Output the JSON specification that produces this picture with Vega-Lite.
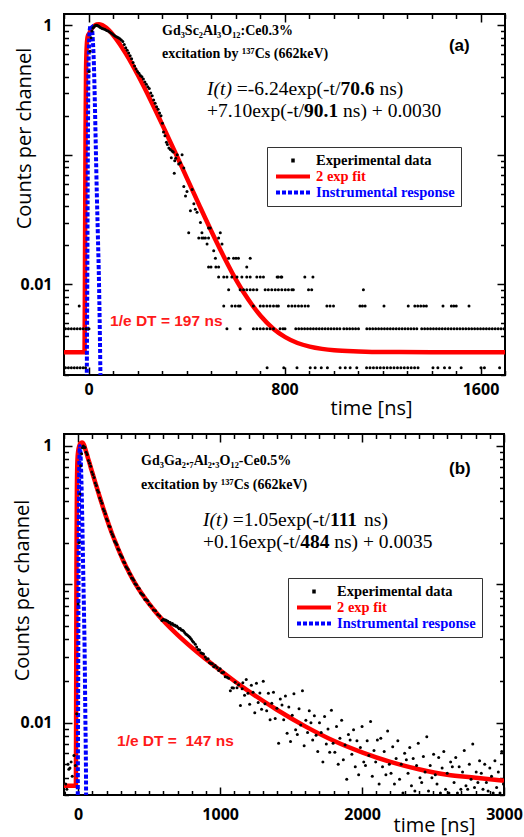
{
"$schema":"https://vega.github.io/schema/vega-lite/v6.json",
"padding":{"left":11,"top":12,"right":0,"bottom":0},
"config":{
 "view":{"stroke":"black","strokeWidth":2},
 "axis":{"domain":false,"grid":false,"tickColor":"black","tickWidth":1.5,"labelFont":"Open Sans","labelFontSize":16,"labelFontWeight":"bold","labelColor":"black","titleFont":"Open Sans","titleFontSize":20,"titleFontWeight":"normal","titleColor":"black","labelOverlap":false,"labelFlush":false,"labelBound":false},
 "legend":{"orient":"none","title":null,"direction":"vertical","columns":1,"clipHeight":15,"strokeColor":"#333333","fillColor":"white","padding":6,"rowPadding":0,"labelOffset":4,"symbolOffset":1,"labelFont":"Liberation Serif","labelFontWeight":"bold","labelFontSize":14.5,
    "labelColor":{"expr":"datum.value == '2 exp fit' ? '#ff0000' : datum.value == 'Instrumental response' ? '#0000ff' : '#000000'"},
    "symbolType":"stroke",
    "symbolSize":1156,
    "symbolStrokeWidth":4,
    "symbolDash":{"expr":"datum.value == 'Instrumental response' ? [4,2] : datum.value == 'Experimental data' ? [3.5,100] : [1,0]"},
    "symbolDashOffset":{"expr":"datum.value == 'Experimental data' ? -15.25 : 0"}}
},
"datasets":{
"aFit":[{"t":-100,"v":0.003},{"t":-16,"v":0.003},{"t":-14,"v":0.02},{"t":-12,"v":0.15},{"t":-10,"v":0.45},{"t":-7,"v":0.7},{"t":-3,"v":0.82},{"t":3,"v":0.863},{"t":13,"v":0.941},{"t":23,"v":0.988},{"t":33,"v":1.012},{"t":43,"v":1.017},{"t":53,"v":1.006},{"t":63,"v":0.983},{"t":83,"v":0.916},{"t":103,"v":0.829},{"t":128,"v":0.713},{"t":153,"v":0.6},{"t":178,"v":0.498},{"t":203,"v":0.407},{"t":253,"v":0.265},{"t":303,"v":0.168},{"t":353,"v":0.105},{"t":403,"v":0.0652},{"t":453,"v":0.0405},{"t":503,"v":0.0254},{"t":553,"v":0.0163},{"t":603,"v":0.0108},{"t":653,"v":0.0076},{"t":703,"v":0.0057},{"t":753,"v":0.00457},{"t":803,"v":0.00392},{"t":853,"v":0.00353},{"t":903,"v":0.00331},{"t":953,"v":0.00318},{"t":1003,"v":0.0031},{"t":1103,"v":0.00304},{"t":1203,"v":0.00301},{"t":1400,"v":0.003},{"t":1700,"v":0.003}],
"aIrf":[{"t":-9,"v":0.0008},{"t":-7,"v":0.002},{"t":-5,"v":0.01},{"t":-3,"v":0.08},{"t":-1,"v":0.3},{"t":2,"v":0.7},{"t":6,"v":0.95},{"t":10,"v":1.0},{"t":14,"v":0.95},{"t":18,"v":0.75},{"t":22,"v":0.5},{"t":26,"v":0.25},{"t":30,"v":0.11},{"t":34,"v":0.05},{"t":38,"v":0.025},{"t":43,"v":0.01},{"t":48,"v":0.0025},{"t":51,"v":0.0008}],
"aPts":[{"t":-94,"v":0.00455},{"t":-94,"v":0.00227},{"t":-82,"v":0.00455},{"t":-82,"v":0.00227},{"t":-70,"v":0.00455},{"t":-70,"v":0.00227},{"t":-58,"v":0.00455},{"t":-58,"v":0.00227},{"t":-46,"v":0.00455},{"t":-46,"v":0.00227},{"t":-38,"v":0.00682},{"t":-34,"v":0.00455},{"t":-34,"v":0.00227},{"t":-22,"v":0.00455},{"t":-22,"v":0.00227},{"t":-12,"v":0.00227},{"t":-10,"v":0.00455},{"t":2,"v":0.00455},
{"t":2,"v":0.44},{"t":6,"v":0.63},{"t":10,"v":0.8},{"t":14,"v":0.9},{"t":18,"v":0.95},{"t":22,"v":0.97},{"t":26,"v":0.99},{"t":30,"v":1.0},{"t":34,"v":1.0},{"t":38,"v":0.99},{"t":42,"v":0.98},{"t":46,"v":0.97},{"t":50,"v":0.955},{"t":56,"v":0.945},{"t":62,"v":0.935},{"t":68,"v":0.925},{"t":74,"v":0.91},{"t":80,"v":0.9},{"t":86,"v":0.885},{"t":92,"v":0.87},{"t":98,"v":0.855},{"t":104,"v":0.835},{"t":110,"v":0.82},{"t":116,"v":0.81},{"t":122,"v":0.8},{"t":128,"v":0.785},{"t":134,"v":0.77},{"t":140,"v":0.75},{"t":146,"v":0.71},{"t":152,"v":0.67},{"t":158,"v":0.64},{"t":164,"v":0.61},{"t":170,"v":0.58},{"t":176,"v":0.55},{"t":182,"v":0.515},{"t":188,"v":0.485},{"t":194,"v":0.46},{"t":200,"v":0.44},{"t":206,"v":0.425},{"t":212,"v":0.41},{"t":218,"v":0.4},{"t":224,"v":0.385},{"t":230,"v":0.365},{"t":236,"v":0.35},{"t":242,"v":0.335},{"t":248,"v":0.325},{"t":254,"v":0.3},{"t":260,"v":0.285},{"t":266,"v":0.265},{"t":272,"v":0.25},{"t":278,"v":0.235},{"t":284,"v":0.225},{"t":290,"v":0.21},{"t":296,"v":0.2},{"t":302,"v":0.175},{"t":306,"v":0.15},{"t":312,"v":0.14},{"t":318,"v":0.125},{"t":322,"v":0.12},{"t":328,"v":0.113},{"t":334,"v":0.11},{"t":338,"v":0.095},{"t":341,"v":0.107},{"t":346,"v":0.105},{"t":350,"v":0.072},{"t":352,"v":0.09},{"t":356,"v":0.094},{"t":362,"v":0.1},{"t":368,"v":0.085},{"t":375,"v":0.087},{"t":382,"v":0.1},{"t":389,"v":0.079},{"t":389,"v":0.057},{"t":396,"v":0.048},{"t":402,"v":0.052},{"t":409,"v":0.025},{"t":416,"v":0.037},{"t":423,"v":0.054},{"t":430,"v":0.042},{"t":436,"v":0.038},{"t":443,"v":0.036},{"t":457,"v":0.03},
{"t":490,"v":0.0273},{"t":497,"v":0.0273},{"t":463,"v":0.025},{"t":538,"v":0.025},{"t":450,"v":0.0228},{"t":463,"v":0.0228},{"t":470,"v":0.0228},{"t":477,"v":0.0228},{"t":490,"v":0.0228},{"t":531,"v":0.0228},{"t":484,"v":0.0205},{"t":545,"v":0.0205},{"t":511,"v":0.0182},{"t":518,"v":0.0159},{"t":572,"v":0.0159},{"t":592,"v":0.0159},{"t":602,"v":0.0159},{"t":612,"v":0.0159},{"t":660,"v":0.0159},{"t":490,"v":0.0136},{"t":500,"v":0.0136},{"t":520,"v":0.0136},{"t":531,"v":0.0136},{"t":646,"v":0.0136},
{"t":531,"v":0.0114},{"t":552,"v":0.0114},{"t":565,"v":0.0114},{"t":585,"v":0.0114},{"t":606,"v":0.0114},{"t":626,"v":0.0114},{"t":646,"v":0.0114},{"t":660,"v":0.0114},{"t":687,"v":0.0114},{"t":701,"v":0.0114},{"t":714,"v":0.0114},{"t":770,"v":0.0114},{"t":775,"v":0.0114},{"t":786,"v":0.0114},{"t":789,"v":0.0114},{"t":883,"v":0.0114},{"t":916,"v":0.0114},
{"t":572,"v":0.0091},{"t":619,"v":0.0091},{"t":633,"v":0.0091},{"t":646,"v":0.0091},{"t":660,"v":0.0091},{"t":673,"v":0.0091},{"t":687,"v":0.0091},{"t":721,"v":0.0091},{"t":734,"v":0.0091},{"t":748,"v":0.0091},{"t":762,"v":0.0091},{"t":775,"v":0.0091},{"t":789,"v":0.0091},{"t":803,"v":0.0091},{"t":816,"v":0.0091},{"t":830,"v":0.0091},{"t":836,"v":0.0091},{"t":898,"v":0.0091},{"t":911,"v":0.0091},{"t":1122,"v":0.0091},
{"t":552,"v":0.00682},{"t":585,"v":0.00682},{"t":599,"v":0.00682},{"t":612,"v":0.00682},{"t":619,"v":0.00682},{"t":673,"v":0.00682},{"t":701,"v":0.00682},{"t":714,"v":0.00682},{"t":728,"v":0.00682},{"t":741,"v":0.00682},{"t":755,"v":0.00682},{"t":768,"v":0.00682},{"t":775,"v":0.00682},{"t":816,"v":0.00682},{"t":830,"v":0.00682},{"t":843,"v":0.00682},{"t":857,"v":0.00682},{"t":870,"v":0.00682},{"t":884,"v":0.00682},{"t":897,"v":0.00682},{"t":973,"v":0.00682},{"t":986,"v":0.00682},{"t":1000,"v":0.00682},{"t":1108,"v":0.00682},{"t":1118,"v":0.00682},{"t":1129,"v":0.00682},{"t":1206,"v":0.00682},{"t":1305,"v":0.00682},{"t":1332,"v":0.00682},{"t":1344,"v":0.00682},{"t":1356,"v":0.00682},{"t":1368,"v":0.00682},{"t":1379,"v":0.00682},{"t":1447,"v":0.00682},{"t":1481,"v":0.00682},{"t":1491,"v":0.00682},{"t":1501,"v":0.00682},{"t":1553,"v":0.00682},
{"t":565,"v":0.00455},{"t":619,"v":0.00455},{"t":673,"v":0.00455},{"t":687,"v":0.00455},{"t":701,"v":0.00455},{"t":714,"v":0.00455},{"t":728,"v":0.00455},{"t":741,"v":0.00455},{"t":755,"v":0.00455},{"t":782,"v":0.00455},{"t":794,"v":0.00455},{"t":802,"v":0.00455},{"t":846,"v":0.00455},{"t":858,"v":0.00455},{"t":870,"v":0.00455},{"t":882,"v":0.00455},{"t":894,"v":0.00455},{"t":906,"v":0.00455},{"t":918,"v":0.00455},{"t":930,"v":0.00455},{"t":942,"v":0.00455},{"t":954,"v":0.00455},{"t":966,"v":0.00455},{"t":978,"v":0.00455},{"t":990,"v":0.00455},{"t":1002,"v":0.00455},{"t":1014,"v":0.00455},{"t":1026,"v":0.00455},{"t":1042,"v":0.00455},{"t":1054,"v":0.00455},{"t":1066,"v":0.00455},{"t":1078,"v":0.00455},{"t":1090,"v":0.00455},{"t":1102,"v":0.00455},{"t":1136,"v":0.00455},{"t":1148,"v":0.00455},{"t":1160,"v":0.00455},{"t":1172,"v":0.00455},{"t":1184,"v":0.00455},{"t":1196,"v":0.00455},{"t":1208,"v":0.00455},{"t":1220,"v":0.00455},{"t":1232,"v":0.00455},{"t":1244,"v":0.00455},{"t":1256,"v":0.00455},{"t":1268,"v":0.00455},{"t":1280,"v":0.00455},{"t":1292,"v":0.00455},{"t":1304,"v":0.00455},{"t":1316,"v":0.00455},{"t":1328,"v":0.00455},{"t":1340,"v":0.00455},{"t":1360,"v":0.00455},{"t":1372,"v":0.00455},{"t":1384,"v":0.00455},{"t":1396,"v":0.00455},{"t":1408,"v":0.00455},{"t":1420,"v":0.00455},{"t":1432,"v":0.00455},{"t":1444,"v":0.00455},{"t":1456,"v":0.00455},{"t":1468,"v":0.00455},{"t":1480,"v":0.00455},{"t":1492,"v":0.00455},{"t":1504,"v":0.00455},{"t":1516,"v":0.00455},{"t":1528,"v":0.00455},{"t":1540,"v":0.00455},{"t":1552,"v":0.00455},{"t":1564,"v":0.00455},{"t":1576,"v":0.00455},{"t":1588,"v":0.00455},{"t":1600,"v":0.00455},{"t":1612,"v":0.00455},{"t":1624,"v":0.00455},{"t":1636,"v":0.00455},{"t":1648,"v":0.00455},{"t":1660,"v":0.00455},{"t":1672,"v":0.00455},{"t":1684,"v":0.00455},{"t":1696,"v":0.00455},
{"t":729,"v":0.00227},{"t":797,"v":0.00227},{"t":851,"v":0.00227},{"t":905,"v":0.00227},{"t":925,"v":0.00227},{"t":950,"v":0.00227},{"t":975,"v":0.00227},{"t":1027,"v":0.00227},{"t":1048,"v":0.00227},{"t":1068,"v":0.00227},{"t":1095,"v":0.00227},{"t":1135,"v":0.00227},{"t":1149,"v":0.00227},{"t":1163,"v":0.00227},{"t":1177,"v":0.00227},{"t":1191,"v":0.00227},{"t":1205,"v":0.00227},{"t":1219,"v":0.00227},{"t":1233,"v":0.00227},{"t":1247,"v":0.00227},{"t":1261,"v":0.00227},{"t":1275,"v":0.00227},{"t":1289,"v":0.00227},{"t":1303,"v":0.00227},{"t":1317,"v":0.00227},{"t":1331,"v":0.00227},{"t":1345,"v":0.00227},{"t":1406,"v":0.00227},{"t":1426,"v":0.00227},{"t":1453,"v":0.00227},{"t":1474,"v":0.00227},{"t":1521,"v":0.00227},{"t":1602,"v":0.00227},{"t":1616,"v":0.00227},{"t":1678,"v":0.00227}],
"bFit":[{"t":-100,"v":0.0035},{"t":-16,"v":0.0035},{"t":-14,"v":0.02},{"t":-12,"v":0.15},{"t":-9,"v":0.5},{"t":-5,"v":0.8},{"t":0,"v":0.92},{"t":8,"v":1.0},{"t":16,"v":1.045},{"t":26,"v":1.06},{"t":34,"v":1.05},{"t":42,"v":1.01},{"t":50,"v":0.95},{"t":60,"v":0.88},{"t":70,"v":0.81},{"t":80,"v":0.75},{"t":90,"v":0.69},{"t":100,"v":0.64},{"t":110,"v":0.59},{"t":120,"v":0.545},{"t":130,"v":0.505},{"t":140,"v":0.468},{"t":150,"v":0.433},{"t":160,"v":0.402},{"t":170,"v":0.373},{"t":180,"v":0.346},{"t":190,"v":0.322},{"t":200,"v":0.3},{"t":220,"v":0.262},{"t":240,"v":0.23},{"t":260,"v":0.204},{"t":280,"v":0.182},{"t":300,"v":0.163},{"t":320,"v":0.146},{"t":340,"v":0.133},{"t":360,"v":0.121},{"t":380,"v":0.111},{"t":400,"v":0.1021},{"t":450,"v":0.0849},{"t":500,"v":0.0721},{"t":550,"v":0.0623},{"t":600,"v":0.0545},{"t":700,"v":0.0431},{"t":800,"v":0.0349},{"t":900,"v":0.0287},{"t":1000,"v":0.0239},{"t":1100,"v":0.02},{"t":1200,"v":0.0169},{"t":1400,"v":0.0124},{"t":1600,"v":0.0094},{"t":1800,"v":0.0074},{"t":2000,"v":0.0061},{"t":2200,"v":0.0052},{"t":2400,"v":0.0046},{"t":2600,"v":0.0042},{"t":2800,"v":0.004},{"t":3000,"v":0.0038}],
"bIrf":[{"t":-6,"v":0.001},{"t":-3,"v":0.003},{"t":0,"v":0.02},{"t":3,"v":0.15},{"t":6,"v":0.5},{"t":9,"v":0.85},{"t":12,"v":1.0},{"t":16,"v":0.9},{"t":20,"v":0.7},{"t":25,"v":0.45},{"t":30,"v":0.25},{"t":35,"v":0.13},{"t":40,"v":0.07},{"t":45,"v":0.035},{"t":50,"v":0.012},{"t":55,"v":0.004},{"t":58,"v":0.001}],
"bPts":[{"t":-95,"v":0.0031},{"t":-88,"v":0.0036},{"t":-80,"v":0.0033},{"t":-72,"v":0.005},{"t":-66,"v":0.0046},{"t":-58,"v":0.0047},{"t":-50,"v":0.0052},{"t":-42,"v":0.0041},{"t":-30,"v":0.0058},{"t":-20,"v":0.0049},{"t":-11,"v":0.0116},
{"t":0,"v":0.072},{"t":6,"v":0.2},{"t":12,"v":0.45},{"t":18,"v":0.72},{"t":24,"v":0.88},{"t":30,"v":0.97},{"t":36,"v":1.0},{"t":42,"v":0.98},
{"t":48,"v":0.974},{"t":56,"v":0.899},{"t":64,"v":0.869},{"t":72,"v":0.786},{"t":80,"v":0.75},{"t":88,"v":0.712},{"t":96,"v":0.647},{"t":104,"v":0.623},{"t":112,"v":0.592},{"t":120,"v":0.54},{"t":128,"v":0.518},{"t":136,"v":0.478},{"t":144,"v":0.463},{"t":152,"v":0.42},{"t":160,"v":0.402},{"t":168,"v":0.385},{"t":176,"v":0.35},{"t":184,"v":0.338},{"t":192,"v":0.323},{"t":200,"v":0.297},{"t":208,"v":0.288},{"t":216,"v":0.264},{"t":224,"v":0.261},{"t":232,"v":0.24},{"t":240,"v":0.23},{"t":248,"v":0.222},{"t":256,"v":0.205},{"t":264,"v":0.2},{"t":272,"v":0.194},{"t":280,"v":0.18},{"t":288,"v":0.177},{"t":296,"v":0.164},{"t":304,"v":0.16},{"t":312,"v":0.156},{"t":320,"v":0.145},{"t":328,"v":0.143},{"t":336,"v":0.134},{"t":344,"v":0.131},{"t":352,"v":0.128},{"t":360,"v":0.12},{"t":368,"v":0.118},{"t":376,"v":0.111},{"t":384,"v":0.11},{"t":392,"v":0.107},{"t":400,"v":0.101},{"t":410,"v":0.0994},{"t":420,"v":0.0937},{"t":430,"v":0.0931},{"t":440,"v":0.0866},{"t":450,"v":0.0849},{"t":460,"v":0.0832},{"t":470,"v":0.0778},{"t":480,"v":0.0772},{"t":490,"v":0.0759},{"t":500,"v":0.0714},{"t":515,"v":0.0696},{"t":530,"v":0.0652},{"t":545,"v":0.0643},{"t":560,"v":0.0606},{"t":575,"v":0.0591},{"t":590,"v":0.0548},{"t":600,"v":0.0559},
{"t":608,"v":0.0553},{"t":616,"v":0.0553},{"t":624,"v":0.0545},{"t":632,"v":0.054},{"t":640,"v":0.053},{"t":648,"v":0.0529},{"t":656,"v":0.0515},{"t":664,"v":0.052},{"t":672,"v":0.0505},{"t":680,"v":0.0508},{"t":688,"v":0.0497},{"t":695,"v":0.05},{"t":703,"v":0.0488},{"t":711,"v":0.0478},{"t":719,"v":0.048},{"t":727,"v":0.0468},{"t":735,"v":0.0466},{"t":742,"v":0.046},{"t":750,"v":0.0448},{"t":758,"v":0.0437},{"t":766,"v":0.0432},{"t":774,"v":0.0425},{"t":782,"v":0.0418},{"t":789,"v":0.0411},{"t":797,"v":0.04},{"t":805,"v":0.039},{"t":813,"v":0.0382},{"t":825,"v":0.0369},{"t":835,"v":0.0352},{"t":845,"v":0.0338},{"t":855,"v":0.0335},{"t":865,"v":0.032},{"t":875,"v":0.0316},{"t":883,"v":0.0314},{"t":895,"v":0.0298},{"t":905,"v":0.0287},{"t":915,"v":0.029},{"t":925,"v":0.0271},{"t":935,"v":0.0268},{"t":945,"v":0.0266},{"t":955,"v":0.0254},{"t":965,"v":0.0259},{"t":978,"v":0.025},{"t":990,"v":0.0238},{"t":1000,"v":0.0245},{"t":1012,"v":0.0229},{"t":1024,"v":0.0231},{"t":1036,"v":0.0215},{"t":1049,"v":0.0213},{"t":1060,"v":0.0209},{"t":1072,"v":0.017},{"t":1084,"v":0.0179},{"t":1094,"v":0.0178},{"t":1106,"v":0.0196},{"t":1119,"v":0.0179},{"t":1130,"v":0.0188},{"t":1143,"v":0.0133},{"t":1155,"v":0.0176},
{"t":1160,"v":0.0194},{"t":1172,"v":0.0158},{"t":1184,"v":0.0205},{"t":1196,"v":0.0163},{"t":1208,"v":0.0136},{"t":1220,"v":0.0186},{"t":1232,"v":0.0166},{"t":1244,"v":0.0118},{"t":1256,"v":0.0193},{"t":1268,"v":0.014},{"t":1280,"v":0.0164},{"t":1292,"v":0.0125},{"t":1304,"v":0.0199},{"t":1316,"v":0.0137},{"t":1328,"v":0.0122},{"t":1340,"v":0.0163},{"t":1352,"v":0.0105},{"t":1364,"v":0.0138},{"t":1376,"v":0.0166},{"t":1388,"v":0.0107},{"t":1400,"v":0.0127},{"t":1412,"v":0.0071},{"t":1424,"v":0.0148},{"t":1436,"v":0.0134},{"t":1448,"v":0.0105},{"t":1460,"v":0.0156},{"t":1472,"v":0.0084},{"t":1484,"v":0.013},{"t":1496,"v":0.0073},{"t":1508,"v":0.0113},{"t":1520,"v":0.0162},{"t":1532,"v":0.0089},{"t":1544,"v":0.0082},{"t":1556,"v":0.0126},{"t":1568,"v":0.0096},{"t":1580,"v":0.017},{"t":1592,"v":0.0068},{"t":1604,"v":0.0104},{"t":1616,"v":0.0085},{"t":1628,"v":0.0122},{"t":1640,"v":0.01},{"t":1652,"v":0.0075},{"t":1664,"v":0.0112},{"t":1676,"v":0.0081},{"t":1688,"v":0.0062},{"t":1700,"v":0.01},{"t":1712,"v":0.0085},{"t":1724,"v":0.0052},{"t":1736,"v":0.0111},{"t":1748,"v":0.007},{"t":1760,"v":0.009},{"t":1772,"v":0.0061},{"t":1784,"v":0.0123},{"t":1796,"v":0.0071},{"t":1808,"v":0.0061},{"t":1820,"v":0.0094},{"t":1832,"v":0.005},{"t":1844,"v":0.0077},{"t":1856,"v":0.0104},{"t":1868,"v":0.0054},{"t":1880,"v":0.0069},{"t":1892,"v":0.0039},{"t":1904,"v":0.0082},{"t":1916,"v":0.0075},{"t":1928,"v":0.0059},{"t":1940,"v":0.0089},{"t":1952,"v":0.0048},{"t":1964,"v":0.0074},{"t":1976,"v":0.0042},{"t":1988,"v":0.0066},{"t":2000,"v":0.0094},{"t":2012,"v":0.0052},{"t":2024,"v":0.0049},{"t":2036,"v":0.0074},{"t":2048,"v":0.0058},{"t":2060,"v":0.0102},{"t":2072,"v":0.0041},{"t":2084,"v":0.0063},{"t":2096,"v":0.0052},{"t":2108,"v":0.0075},{"t":2120,"v":0.0036},{"t":2132,"v":0.0077},{"t":2144,"v":0.0048},{"t":2156,"v":0.0062},{"t":2168,"v":0.0042},{"t":2180,"v":0.0087},{"t":2192,"v":0.005},{"t":2204,"v":0.0043},{"t":2216,"v":0.0067},{"t":2228,"v":0.0036},{"t":2240,"v":0.0055},{"t":2252,"v":0.0074},{"t":2264,"v":0.0039},{"t":2276,"v":0.005},{"t":2288,"v":0.0031},{"t":2300,"v":0.006},{"t":2312,"v":0.0054},{"t":2324,"v":0.0043},{"t":2336,"v":0.0066},{"t":2348,"v":0.0035},{"t":2360,"v":0.0055},{"t":2372,"v":0.0032},{"t":2384,"v":0.0049},{"t":2396,"v":0.0071},{"t":2408,"v":0.004},{"t":2420,"v":0.0037},{"t":2432,"v":0.0057},{"t":2444,"v":0.0044},{"t":2456,"v":0.0079},{"t":2468,"v":0.0032},{"t":2480,"v":0.0049},{"t":2492,"v":0.004},{"t":2504,"v":0.0059},{"t":2516,"v":0.0042},{"t":2528,"v":0.0036},{"t":2540,"v":0.0056},{"t":2552,"v":0.0031},{"t":2564,"v":0.0047},{"t":2576,"v":0.0062},{"t":2588,"v":0.0033},{"t":2600,"v":0.0043},{"t":2612,"v":0.0031},{"t":2624,"v":0.0052},{"t":2636,"v":0.0048},{"t":2648,"v":0.0037},{"t":2660,"v":0.0056},{"t":2672,"v":0.0031},{"t":2684,"v":0.0048},{"t":2696,"v":0.0033},{"t":2708,"v":0.0044},{"t":2720,"v":0.0063},{"t":2732,"v":0.0035},{"t":2744,"v":0.0033},{"t":2756,"v":0.005},{"t":2768,"v":0.0039},{"t":2780,"v":0.007},{"t":2792,"v":0.0034},{"t":2804,"v":0.0044},{"t":2816,"v":0.0037},{"t":2828,"v":0.0053},{"t":2840,"v":0.0043},{"t":2852,"v":0.0033},{"t":2864,"v":0.005},{"t":2876,"v":0.0037},{"t":2888,"v":0.0032},{"t":2900,"v":0.0047},{"t":2912,"v":0.0041},{"t":2924,"v":0.0031},{"t":2936,"v":0.0053},{"t":2948,"v":0.0034},{"t":2960,"v":0.0044},{"t":2972,"v":0.0031},{"t":2984,"v":0.0062},{"t":2996,"v":0.0036}]
},
"spacing":59,
"bounds":"flush",
"resolve":{"scale":{"color":"independent"},"legend":{"color":"independent"}},
"vconcat":[
{
"width":441,"height":361,
"resolve":{"axis":{"x":"independent","y":"independent"}},
"layer":[
{"data":{"name":"aFit"},"mark":{"type":"line","clip":true,"interpolate":"monotone"},
 "encoding":{
  "x":{"field":"t","type":"quantitative","scale":{"domain":[-100,1700],"nice":false,"zero":false},
   "axis":{"orient":"bottom","values":[-100,0,100,200,300,400,500,600,700,800,900,1000,1100,1200,1300,1400,1500,1600,1700],"format":"d","labelExpr":"datum.value == 0 || datum.value == 800 || datum.value == 1600 ? datum.label : ''","tickSize":{"condition":{"test":"datum.value % 800 == 0","value":-8},"value":-4.5},"labelPadding":14,"title":"time [ns]","titleX":307,"titleY":39,"titleBaseline":"alphabetic"}},
  "y":{"field":"v","type":"quantitative","scale":{"type":"log","domain":[0.002,1.22],"nice":false},
   "axis":{"orient":"left","values":[0.002,0.003,0.004,0.005,0.006,0.007,0.008,0.009,0.01,0.02,0.03,0.04,0.05,0.06,0.07,0.08,0.09,0.1,0.2,0.3,0.4,0.5,0.6,0.7,0.8,0.9,1],"labelExpr":"datum.value == 1 ? '1' : datum.value == 0.01 ? '0.01' : ''","tickSize":{"condition":{"test":"datum.value == 1 || datum.value == 0.1 || datum.value == 0.01","value":-8},"value":-4.5},"labelPadding":20,"title":"Counts per channel","titleX":-34,"titleY":124,"titleBaseline":"alphabetic"}},
  "color":{"datum":"2 exp fit","type":"nominal","scale":{"domain":["Experimental data","2 exp fit","Instrumental response"],"range":["#000000","#ff0000","#0000ff"]},
   "legend":{"orient":"none","legendX":203,"legendY":133}},
  "strokeWidth":{"value":4.5}
 }},
{"data":{"name":"aIrf"},"mark":{"type":"line","clip":true,"interpolate":"monotone"},
 "encoding":{
  "x":{"field":"t","type":"quantitative","scale":{"domain":[-100,1700],"nice":false,"zero":false},
   "axis":{"orient":"top","values":[-100,0,100,200,300,400,500,600,700,800,900,1000,1100,1200,1300,1400,1500,1600,1700],"labels":false,"title":null,"tickSize":{"condition":{"test":"datum.value % 800 == 0","value":-8},"value":-4.5}}},
  "y":{"field":"v","type":"quantitative","scale":{"type":"log","domain":[0.002,1.22],"nice":false},
   "axis":{"orient":"right","values":[0.002,0.003,0.004,0.005,0.006,0.007,0.008,0.009,0.01,0.02,0.03,0.04,0.05,0.06,0.07,0.08,0.09,0.1,0.2,0.3,0.4,0.5,0.6,0.7,0.8,0.9,1],"labels":false,"title":null,"tickSize":{"condition":{"test":"datum.value == 1 || datum.value == 0.1 || datum.value == 0.01","value":-8},"value":-4.5}}},
  "color":{"datum":"Instrumental response","type":"nominal","scale":{"domain":["Experimental data","2 exp fit","Instrumental response"],"range":["#000000","#ff0000","#0000ff"]}},
  "strokeWidth":{"value":4},
  "strokeDash":{"value":[4,2]}
 }},
{"data":{"name":"aPts"},"mark":{"type":"point","filled":true,"opacity":1,"size":9,"clip":true},
 "encoding":{
  "x":{"field":"t","type":"quantitative","scale":{"domain":[-100,1700],"nice":false,"zero":false},"axis":null},
  "y":{"field":"v","type":"quantitative","scale":{"type":"log","domain":[0.002,1.22],"nice":false},"axis":null},
  "color":{"datum":"Experimental data","type":"nominal","scale":{"domain":["Experimental data","2 exp fit","Instrumental response"],"range":["#000000","#ff0000","#0000ff"]}}
 }},
{"data":{"values":[{"t":605.3,"v":0.2893,"s":"=-6.24exp(-t/"},{"t":1187.3,"v":0.2893,"s":"ns)"},{"t":484,"v":0.1957,"s":"+7.10exp(-t/"},{"t":1039.2,"v":0.1957,"s":"ns) + 0.0030"}]},
 "mark":{"type":"text","font":"Liberation Serif","fontSize":19.5,"align":"left","baseline":"alphabetic","color":"black"},
 "encoding":{"x":{"field":"t","type":"quantitative","scale":{"domain":[-100,1700],"nice":false,"zero":false},"axis":null},"y":{"field":"v","type":"quantitative","scale":{"type":"log","domain":[0.002,1.22],"nice":false},"axis":null},"text":{"field":"s"}}},
{"data":{"values":[{"t":1028.2,"v":0.2893,"s":"70.6"},{"t":880,"v":0.1957,"s":"90.1"}]},
 "mark":{"type":"text","font":"Liberation Serif","fontSize":19.5,"fontWeight":"bold","align":"left","baseline":"alphabetic","color":"black"},
 "encoding":{"x":{"field":"t","type":"quantitative","scale":{"domain":[-100,1700],"nice":false,"zero":false},"axis":null},"y":{"field":"v","type":"quantitative","scale":{"type":"log","domain":[0.002,1.22],"nice":false},"axis":null},"text":{"field":"s"}}},
{"data":{"values":[{"t":484,"v":0.2893,"s":"I(t)"}]},
 "mark":{"type":"text","font":"Liberation Serif","fontSize":19.5,"fontStyle":"italic","align":"left","baseline":"alphabetic","color":"black"},
 "encoding":{"x":{"field":"t","type":"quantitative","scale":{"domain":[-100,1700],"nice":false,"zero":false},"axis":null},"y":{"field":"v","type":"quantitative","scale":{"type":"log","domain":[0.002,1.22],"nice":false},"axis":null},"text":{"field":"s"}}},
{"data":{"values":[{"t":300,"v":0.845,"s":"Gd₃Sc₂Al₃O₁₂:Ce0.3%"},{"t":300,"v":0.558,"s":"excitation by ¹³⁷Cs (662keV)"}]},
 "mark":{"type":"text","font":"Liberation Serif","fontSize":14,"fontWeight":"bold","align":"left","baseline":"alphabetic","color":"black"},
 "encoding":{"x":{"field":"t","type":"quantitative","scale":{"domain":[-100,1700],"nice":false,"zero":false},"axis":null},"y":{"field":"v","type":"quantitative","scale":{"type":"log","domain":[0.002,1.22],"nice":false},"axis":null},"text":{"field":"s"}}},
{"data":{"values":[{"t":1471,"v":0.632,"s":"(a)"}]},
 "mark":{"type":"text","font":"Liberation Sans","fontSize":17,"fontWeight":"bold","align":"left","baseline":"alphabetic","color":"black"},
 "encoding":{"x":{"field":"t","type":"quantitative","scale":{"domain":[-100,1700],"nice":false,"zero":false},"axis":null},"y":{"field":"v","type":"quantitative","scale":{"type":"log","domain":[0.002,1.22],"nice":false},"axis":null},"text":{"field":"s"}}},
{"data":{"values":[{"t":88,"v":0.004775,"s":"1/e DT = 197 ns"}]},
 "mark":{"type":"text","font":"Liberation Sans","fontSize":15.5,"fontWeight":"bold","align":"left","baseline":"alphabetic","color":"#ff1a1a"},
 "encoding":{"x":{"field":"t","type":"quantitative","scale":{"domain":[-100,1700],"nice":false,"zero":false},"axis":null},"y":{"field":"v","type":"quantitative","scale":{"type":"log","domain":[0.002,1.22],"nice":false},"axis":null},"text":{"field":"s"}}}
]
},
{
"width":440,"height":361,
"resolve":{"axis":{"x":"independent","y":"independent"}},
"layer":[
{"data":{"name":"bFit"},"mark":{"type":"line","clip":true,"interpolate":"monotone"},
 "encoding":{
  "x":{"field":"t","type":"quantitative","scale":{"domain":[-100,3000],"nice":false,"zero":false},
   "axis":{"orient":"bottom","values":[-100,0,100,200,300,400,500,600,700,800,900,1000,1100,1200,1300,1400,1500,1600,1700,1800,1900,2000,2100,2200,2300,2400,2500,2600,2700,2800,2900,3000],"format":"d","labelExpr":"datum.value % 1000 == 0 ? datum.label : ''","tickSize":{"condition":{"test":"datum.value % 1000 == 0","value":-8},"value":-4.5},"labelPadding":19,"title":"time [ns]","titleX":370,"titleY":36,"titleBaseline":"alphabetic"}},
  "y":{"field":"v","type":"quantitative","scale":{"type":"log","domain":[0.003,1.22],"nice":false},
   "axis":{"orient":"left","values":[0.003,0.004,0.005,0.006,0.007,0.008,0.009,0.01,0.02,0.03,0.04,0.05,0.06,0.07,0.08,0.09,0.1,0.2,0.3,0.4,0.5,0.6,0.7,0.8,0.9,1],"labelExpr":"datum.value == 1 ? '1' : datum.value == 0.01 ? '0.01' : ''","tickSize":{"condition":{"test":"datum.value == 1 || datum.value == 0.1 || datum.value == 0.01","value":-8},"value":-4.5},"labelPadding":20,"title":"Counts per channel","titleX":-36,"titleY":156,"titleBaseline":"alphabetic"}},
  "color":{"datum":"2 exp fit","type":"nominal","scale":{"domain":["Experimental data","2 exp fit","Instrumental response"],"range":["#000000","#ff0000","#0000ff"]},
   "legend":{"orient":"none","legendX":224,"legendY":144}},
  "strokeWidth":{"value":4.5}
 }},
{"data":{"name":"bIrf"},"mark":{"type":"line","clip":true,"interpolate":"monotone"},
 "encoding":{
  "x":{"field":"t","type":"quantitative","scale":{"domain":[-100,3000],"nice":false,"zero":false},
   "axis":{"orient":"top","values":[-100,0,100,200,300,400,500,600,700,800,900,1000,1100,1200,1300,1400,1500,1600,1700,1800,1900,2000,2100,2200,2300,2400,2500,2600,2700,2800,2900,3000],"labels":false,"title":null,"tickSize":{"condition":{"test":"datum.value % 1000 == 0","value":-8},"value":-4.5}}},
  "y":{"field":"v","type":"quantitative","scale":{"type":"log","domain":[0.003,1.22],"nice":false},
   "axis":{"orient":"right","values":[0.003,0.004,0.005,0.006,0.007,0.008,0.009,0.01,0.02,0.03,0.04,0.05,0.06,0.07,0.08,0.09,0.1,0.2,0.3,0.4,0.5,0.6,0.7,0.8,0.9,1],"labels":false,"title":null,"tickSize":{"condition":{"test":"datum.value == 1 || datum.value == 0.1 || datum.value == 0.01","value":-8},"value":-4.5}}},
  "color":{"datum":"Instrumental response","type":"nominal","scale":{"domain":["Experimental data","2 exp fit","Instrumental response"],"range":["#000000","#ff0000","#0000ff"]}},
  "strokeWidth":{"value":4},
  "strokeDash":{"value":[4,2]}
 }},
{"data":{"name":"bPts"},"mark":{"type":"point","filled":true,"opacity":1,"size":9,"clip":true},
 "encoding":{
  "x":{"field":"t","type":"quantitative","scale":{"domain":[-100,3000],"nice":false,"zero":false},"axis":null},
  "y":{"field":"v","type":"quantitative","scale":{"type":"log","domain":[0.003,1.22],"nice":false},"axis":null},
  "color":{"datum":"Experimental data","type":"nominal","scale":{"domain":["Experimental data","2 exp fit","Instrumental response"],"range":["#000000","#ff0000","#0000ff"]}}
 }},
{"data":{"values":[{"t":1089.6,"v":0.2638,"s":"=1.05exp(-t/"},{"t":2014.2,"v":0.2638,"s":"ns)"},{"t":879.6,"v":0.183,"s":"+0.16exp(-t/"},{"t":1804.2,"v":0.183,"s":"ns) + 0.0035"}]},
 "mark":{"type":"text","font":"Liberation Serif","fontSize":19.5,"align":"left","baseline":"alphabetic","color":"black"},
 "encoding":{"x":{"field":"t","type":"quantitative","scale":{"domain":[-100,3000],"nice":false,"zero":false},"axis":null},"y":{"field":"v","type":"quantitative","scale":{"type":"log","domain":[0.003,1.22],"nice":false},"axis":null},"text":{"field":"s"}}},
{"data":{"values":[{"t":1773.9,"v":0.2638,"s":"111"},{"t":1563.8,"v":0.183,"s":"484"}]},
 "mark":{"type":"text","font":"Liberation Serif","fontSize":19.5,"fontWeight":"bold","align":"left","baseline":"alphabetic","color":"black"},
 "encoding":{"x":{"field":"t","type":"quantitative","scale":{"domain":[-100,3000],"nice":false,"zero":false},"axis":null},"y":{"field":"v","type":"quantitative","scale":{"type":"log","domain":[0.003,1.22],"nice":false},"axis":null},"text":{"field":"s"}}},
{"data":{"values":[{"t":879.6,"v":0.2638,"s":"I(t)"}]},
 "mark":{"type":"text","font":"Liberation Serif","fontSize":19.5,"fontStyle":"italic","align":"left","baseline":"alphabetic","color":"black"},
 "encoding":{"x":{"field":"t","type":"quantitative","scale":{"domain":[-100,3000],"nice":false,"zero":false},"axis":null},"y":{"field":"v","type":"quantitative","scale":{"type":"log","domain":[0.003,1.22],"nice":false},"axis":null},"text":{"field":"s"}}},
{"data":{"values":[{"t":442.6,"v":0.728,"s":"Gd₃Ga₂.₇Al₂.₃O₁₂-Ce0.5%"},{"t":442.6,"v":0.4885,"s":"excitation by ¹³⁷Cs (662keV)"}]},
 "mark":{"type":"text","font":"Liberation Serif","fontSize":14,"fontWeight":"bold","align":"left","baseline":"alphabetic","color":"black"},
 "encoding":{"x":{"field":"t","type":"quantitative","scale":{"domain":[-100,3000],"nice":false,"zero":false},"axis":null},"y":{"field":"v","type":"quantitative","scale":{"type":"log","domain":[0.003,1.22],"nice":false},"axis":null},"text":{"field":"s"}}},
{"data":{"values":[{"t":2613,"v":0.627,"s":"(b)"}]},
 "mark":{"type":"text","font":"Liberation Sans","fontSize":17,"fontWeight":"bold","align":"left","baseline":"alphabetic","color":"black"},
 "encoding":{"x":{"field":"t","type":"quantitative","scale":{"domain":[-100,3000],"nice":false,"zero":false},"axis":null},"y":{"field":"v","type":"quantitative","scale":{"type":"log","domain":[0.003,1.22],"nice":false},"axis":null},"text":{"field":"s"}}},
{"data":{"values":[{"t":273.5,"v":0.006781,"s":"1/e DT = \u00a0147 ns"}]},
 "mark":{"type":"text","font":"Liberation Sans","fontSize":15.5,"fontWeight":"bold","align":"left","baseline":"alphabetic","color":"#ff1a1a"},
 "encoding":{"x":{"field":"t","type":"quantitative","scale":{"domain":[-100,3000],"nice":false,"zero":false},"axis":null},"y":{"field":"v","type":"quantitative","scale":{"type":"log","domain":[0.003,1.22],"nice":false},"axis":null},"text":{"field":"s"}}}
]
}
]
}
